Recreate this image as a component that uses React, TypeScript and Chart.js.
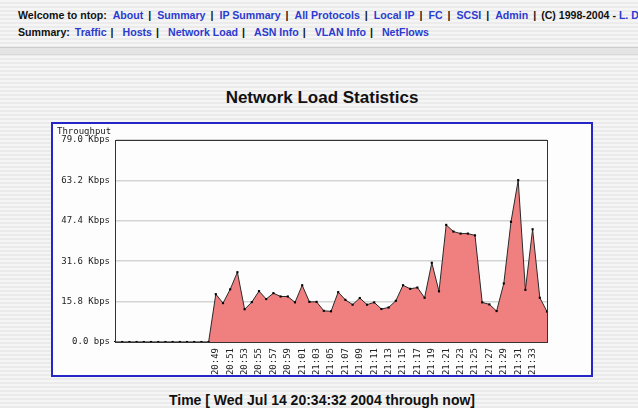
import React, { useEffect, useRef } from "react";
import { Chart, registerables } from "chart.js";

Chart.register(...registerables);

// Categories: one sample per minute
const times = [
  "20:35", "20:36", "20:37", "20:38", "20:39", "20:40", "20:41", "20:42", "20:43", "20:44",
  "20:45", "20:46", "20:47", "20:48", "20:49", "20:50", "20:51", "20:52", "20:53", "20:54",
  "20:55", "20:56", "20:57", "20:58", "20:59", "21:00", "21:01", "21:02", "21:03", "21:04",
  "21:05", "21:06", "21:07", "21:08", "21:09", "21:10", "21:11", "21:12", "21:13", "21:14",
  "21:15", "21:16", "21:17", "21:18", "21:19", "21:20", "21:21", "21:22", "21:23", "21:24",
  "21:25", "21:26", "21:27", "21:28", "21:29", "21:30", "21:31", "21:32", "21:33", "21:34",
  "21:35",
];

// Time labels printed under the axis
const shownTimeLabels = [
  "20:49", "20:51", "20:53", "20:55", "20:57", "20:59", "21:01", "21:03", "21:05", "21:07",
  "21:09", "21:11", "21:13", "21:15", "21:17", "21:19", "21:21", "21:23", "21:25", "21:27",
  "21:29", "21:31", "21:33",
];

// Throughput in Kbps
const throughput = [
  0, 0, 0, 0, 0, 0, 0, 0, 0, 0,
  0, 0, 0, 0, 18.7, 15.2, 20.6, 27.3, 12.8, 15.6,
  19.9, 16.8, 19.1, 17.8, 17.8, 15.5, 22.2, 15.7, 15.7, 12.2,
  12.0, 19.5, 16.5, 14.6, 17.2, 14.6, 15.5, 12.9, 13.5, 16.1,
  22.2, 20.8, 21.3, 17.3, 31.0, 19.8, 45.8, 43.2, 42.4, 42.4,
  41.7, 15.5, 14.7, 12.1, 22.9, 47.0, 63.3, 20.4, 44.1, 17.3,
  11.9,
];

const yTickValues = [0, 15.8, 31.6, 47.4, 63.2, 79.0];
const yTickLabels = ["0.0 bps", "15.8 Kbps", "31.6 Kbps", "47.4 Kbps", "63.2 Kbps", "79.0 Kbps"];

const headerLine1 = ["About", "Summary", "IP Summary", "All Protocols", "Local IP", "FC", "SCSI", "Admin"];
const headerLine2 = ["Traffic", "Hosts", "Network Load", "ASN Info", "VLAN Info", "NetFlows"];

const LINK = "#2b3bd0";
const MONO = "'DejaVu Sans Mono', 'Liberation Mono', monospace";

const framePlugin = {
  id: "frame",
  afterDraw(chart: any) {
    const { ctx, chartArea } = chart;
    ctx.save();
    ctx.strokeStyle = "#333";
    ctx.lineWidth = 1;
    ctx.strokeRect(
      Math.round(chartArea.left) + 0.5,
      Math.round(chartArea.top) + 0.5,
      Math.round(chartArea.right - chartArea.left),
      Math.round(chartArea.bottom - chartArea.top)
    );
    ctx.restore();
  },
};

function NetChart() {
  const ref = useRef<HTMLCanvasElement | null>(null);
  useEffect(() => {
    if (!ref.current) return;
    const chart = new Chart(ref.current, {
      type: "line",
      data: {
        labels: times,
        datasets: [
          {
            data: throughput,
            borderColor: "#2a2a2a",
            borderWidth: 1,
            backgroundColor: "#f08080",
            fill: "origin",
            pointRadius: 1.5,
            pointStyle: "rect",
            pointBackgroundColor: "#000",
            pointBorderColor: "#000",
            pointBorderWidth: 0,
            tension: 0,
          },
        ],
      },
      options: {
        animation: false,
        responsive: false,
        maintainAspectRatio: false,
        layout: { padding: { top: 16, right: 44, left: 0, bottom: 0 } },
        plugins: { legend: { display: false }, tooltip: { enabled: false } },
        scales: {
          x: {
            grid: { display: false, drawTicks: false },
            border: { display: true, color: "#333", width: 1 },
            ticks: {
              autoSkip: false,
              maxRotation: 90,
              minRotation: 90,
              padding: 6,
              color: "#222",
              font: { family: MONO, size: 9 },
              callback: (_v: any, i: number) =>
                shownTimeLabels.includes(times[i]) ? times[i] : "",
            },
            afterFit: (s: any) => {
              s.height = 33;
            },
          },
          y: {
            min: 0,
            max: 79,
            afterBuildTicks: (s: any) => {
              s.ticks = yTickValues.map((v) => ({ value: v }));
            },
            grid: { color: "#d4d4d4", lineWidth: 1.5, drawTicks: false },
            border: { display: true, color: "#333", width: 1 },
            ticks: {
              padding: 5,
              color: "#222",
              font: { family: MONO, size: 9 },
              callback: (_v: any, i: number) => yTickLabels[i],
            },
            afterFit: (s: any) => {
              s.width = 62;
            },
          },
        },
      },
      plugins: [framePlugin],
    } as any);
    return () => chart.destroy();
  }, []);
  return <canvas ref={ref} width={538} height={251} style={{ display: "block" }} />;
}

function Links({ items, ml, mr }: { items: string[]; ml: number; mr: number }) {
  return (
    <>
      {items.map((t, i) => (
        <React.Fragment key={t}>
          {i > 0 ? <span style={{ marginLeft: ml, marginRight: mr }}>|</span> : null}
          <span style={{ color: LINK }}>{t}</span>
        </React.Fragment>
      ))}
    </>
  );
}

export default function App() {
  return (
    <div
      style={{
        position: "fixed",
        left: 0,
        top: 0,
        width: 638,
        height: 408,
        overflow: "hidden",
        background: "repeating-linear-gradient(#f5f5f5 0px, #f5f5f5 2px, #ebebeb 2px, #ebebeb 4px)",
        fontFamily: "'Liberation Sans', Arial, sans-serif",
      }}
    >
      <div
        style={{
          position: "absolute",
          left: 18,
          top: 9,
          fontSize: 10.6,
          fontWeight: "bold",
          whiteSpace: "pre",
          color: "#111",
        }}
      >
        <span style={{ marginRight: 6 }}>Welcome to ntop:</span>
        <Links items={headerLine1} ml={5} mr={6} />
        <span style={{ marginLeft: 5, marginRight: 5 }}>|</span>
        (C) 1998-2004 - <span style={{ color: LINK }}>L. Deri</span>
      </div>
      <div
        style={{
          position: "absolute",
          left: 18,
          top: 26,
          fontSize: 10.6,
          fontWeight: "bold",
          whiteSpace: "pre",
          color: "#111",
        }}
      >
        <span style={{ marginRight: 5 }}>Summary:</span>
        <Links items={headerLine2} ml={4} mr={9} />
      </div>
      <div
        style={{
          position: "absolute",
          left: 0,
          top: 47,
          width: 638,
          height: 6,
          borderTop: "1px solid #cdcdcd",
          borderBottom: "1px solid #d8d8d8",
          background: "#e4e4e4",
        }}
      />
      <div
        style={{
          position: "absolute",
          left: 0,
          width: 644,
          top: 88,
          textAlign: "center",
          fontSize: 17,
          fontWeight: "bold",
          color: "#111",
        }}
      >
        Network Load Statistics
      </div>
      <div
        style={{
          position: "absolute",
          left: 51,
          top: 122,
          width: 542,
          height: 255,
          boxSizing: "border-box",
          border: "2px solid #2525c8",
          background: "#fdfdfd",
        }}
      >
        <NetChart />
        <div
          style={{
            position: "absolute",
            left: 4,
            top: 2,
            fontFamily: MONO,
            fontSize: 9,
            color: "#222",
          }}
        >
          Throughput
        </div>
      </div>
      <div
        style={{
          position: "absolute",
          left: 0,
          width: 644,
          top: 392,
          textAlign: "center",
          fontSize: 14,
          fontWeight: "bold",
          color: "#111",
        }}
      >
        Time [ Wed Jul 14 20:34:32 2004 through now]
      </div>
    </div>
  );
}
